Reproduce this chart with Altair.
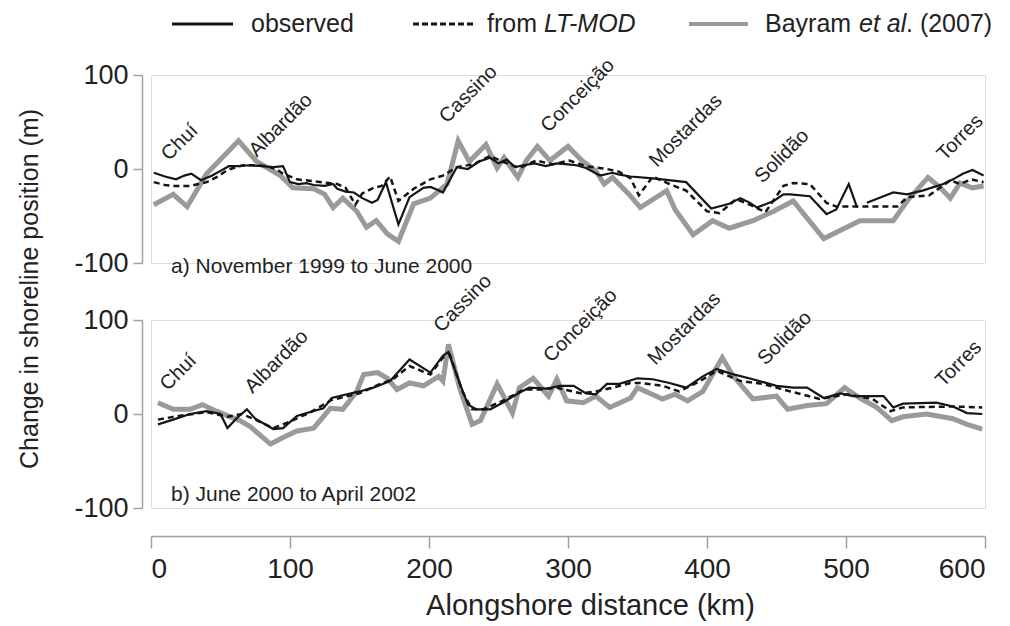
import altair as alt
import pandas as pd

FONT = "Liberation Sans"
BLACK = "#151515"
GRAY = "#9a9a9a"
AXC = "#a59c9c"
TXT = "#222222"

# ---------------- panel a) November 1999 to June 2000 ----------------
obs_a_km = [2, 10, 18, 24, 29, 36, 44, 50, 56, 63, 71, 80, 88, 95, 100, 106, 112, 117, 125, 131,
            134, 140, 146, 152, 159, 163, 169, 178, 186, 196, 201, 206, 210, 220, 228, 236, 244, 250, 256, 262,
            268, 276, 284, 292, 300, 306, 313, 323, 332, 337, 345, 361, 385, 403, 416, 424, 431, 436, 448, 455,
            460, 474, 486, 493, 502, 508, 515, 527, 534, 544, 555, 570, 577, 584, 591, 599]
obs_a_val = [-4, -8, -11, -7, -5, -12, -7, -2, 3, 3, 4, 3, 2, 3, -14, -16, -15, -17, -18, -16,
             -21, -24, -25, -31, -36, -33, -14, -59, -30, -20, -19, -22, -25, 2, 0, 8, 12, 6, 10, 2,
             4, 6, 3, 6, 5, 4, 1, -7, -4, -6, -8, -10, -14, -42, -37, -31, -36, -41, -34, -27,
             -27, -29, -48, -43, -16, -41, -36, -29, -25, -27, -23, -16, -11, -5, -1, -7]
obs_a_gap_after = 508

mod_a_km = [2, 10, 16, 28, 40, 48, 55, 66, 75, 83, 90, 95, 105, 117, 128, 134, 140, 147, 152, 160,
            166, 172, 178, 189, 201, 210, 220, 232, 244, 251, 265, 277, 289, 301, 313, 328, 337, 345, 351, 361,
            373, 385, 400, 409, 421, 431, 442, 455, 462, 474, 486, 493, 537, 544, 560, 575, 582, 590, 599]
mod_a_val = [-14, -17, -18, -18, -14, -8, -1, 4, 4, 3, 0, -5, -11, -13, -15, -16, -20, -38, -26, -20,
             -18, -8, -34, -21, -11, -7, 2, 5, 14, 9, 1, 9, 5, 9, 3, 0, -3, -10, -28, -8,
             -16, -23, -45, -47, -32, -38, -46, -18, -15, -16, -36, -40, -40, -30, -28, -12, -16, -11, -14]

bay_a_km = [2, 16, 26, 40, 63, 76, 93, 102, 117, 125, 131, 138, 148, 155, 162, 170, 178, 189, 201, 213,
            221, 229, 241, 249, 254, 264, 270, 278, 287, 300, 310, 320, 326, 332, 344, 352, 371, 377, 390, 404,
            416, 433, 448, 462, 484, 510, 534, 544, 559, 568, 575, 582, 591, 599]
bay_a_val = [-38, -27, -40, -5, 30, 8, -7, -20, -21, -27, -41, -31, -45, -62, -55, -69, -77, -37, -31, -16,
             30, 8, 26, 1, 12, -9, 9, 24, 9, 24, 9, -2, -16, -9, -27, -41, -23, -43, -70, -55,
             -63, -55, -45, -34, -74, -55, -55, -34, -9, -20, -31, -15, -20, -18]

places_a_name = ["Chuí", "Albardão", "Cassino", "Conceição", "Mostardas", "Solidão", "Torres"]
places_a_km = [13, 76, 213, 286, 364, 440, 571]
places_a_val = [8, 12, 48, 38, 1, -16, 8]

# ---------------- panel b) June 2000 to April 2002 ----------------
obs_b_km = [5, 16, 28, 40, 50, 55, 62, 69, 75, 88, 95, 105, 112, 124, 130, 141, 150, 160, 172, 186,
            201, 210, 214, 222, 228, 234, 244, 253, 263, 272, 285, 294, 304, 313, 320, 328, 337, 350, 361, 373,
            385, 397, 407, 417, 433, 450, 462, 472, 484, 496, 505, 527, 534, 541, 565, 577, 587, 598]
obs_b_val = [-11, -6, 0, 3, 0, -15, -4, 5, -5, -16, -15, -2, 1, 6, 17, 21, 24, 28, 35, 58,
             44, 62, 66, 33, 10, 5, 5, 12, 21, 28, 27, 30, 30, 22, 21, 32, 32, 38, 37, 33,
             28, 40, 48, 43, 37, 30, 28, 28, 17, 22, 19, 19, 7, 11, 12, 8, 1, 0]

mod_b_km = [5, 20, 40, 55, 65, 75, 88, 100, 115, 130, 150, 165, 174, 186, 201, 210, 215, 224, 231, 239,
            253, 268, 280, 292, 309, 320, 332, 345, 352, 368, 380, 395, 407, 424, 440, 460, 481, 501, 519, 532,
            541, 577, 598]
mod_b_val = [-6, -2, 2, -3, 0, -6, -15, -8, 2, 15, 22, 32, 37, 51, 42, 60, 63, 24, 5, 5,
             14, 26, 26, 28, 22, 24, 28, 33, 33, 30, 24, 35, 46, 35, 32, 24, 16, 21, 16, 3,
             7, 8, 7]

bay_b_km = [5, 16, 28, 37, 47, 64, 71, 86, 95, 105, 117, 129, 138, 148, 153, 163, 170, 177, 186, 196,
            207, 210, 214, 222, 231, 237, 249, 260, 265, 275, 286, 292, 299, 311, 320, 330, 345, 350, 368, 377,
            386, 397, 411, 419, 433, 450, 458, 472, 486, 499, 510, 522, 533, 541, 558, 577, 587, 598]
bay_b_val = [12, 5, 5, 10, 3, -7, -13, -32, -25, -18, -15, 6, 5, 24, 42, 44, 38, 26, 33, 30,
             40, 35, 74, 28, -11, -7, 32, 1, 28, 38, 19, 37, 14, 12, 19, 7, 17, 28, 16, 21,
             14, 24, 60, 40, 16, 19, 5, 9, 11, 28, 17, 7, -7, -3, 0, -5, -11, -16]

places_b_name = ["Chuí", "Albardão", "Cassino", "Conceição", "Mostardas", "Solidão", "Torres"]
places_b_km = [12, 73, 209, 288, 363, 442, 570]
places_b_val = [24, 21, 86, 54, 51, 51, 28]

x_ticks = [0, 100, 200, 300, 400, 500, 600]
y_ticks = [-100, 0, 100]

PW, PH = 834, 188

yaxis = alt.Axis(values=y_ticks, tickSize=9, offset=9, domainColor=AXC, tickColor=AXC,
                 domainWidth=1.5, tickWidth=1.5, labelFontSize=27, labelColor=TXT,
                 labelFont=FONT, labelPadding=5, grid=False, title=None,
                 labelExpr="'' + datum.value")
xaxis_b = alt.Axis(values=x_ticks, tickSize=12, offset=28, domainColor=AXC, tickColor=AXC,
                   domainWidth=1.5, tickWidth=1.5, labelFontSize=28, labelColor=TXT,
                   labelFont=FONT, labelPadding=7, grid=False,
                   title="Alongshore distance (km)", titleFontSize=29, titleFont=FONT,
                   titleFontWeight="normal", titleColor=TXT, titlePadding=8, titleX=439)


def line_df(km, val, gap_after=None):
    seg = [0 if (gap_after is None or k <= gap_after) else 1 for k in km]
    return pd.DataFrame({"km": km, "val": val, "seg": seg})


def panel(obs_km, obs_val, gap, mod_km, mod_val, bay_km, bay_val,
          pn, pk, pv, tag, tag_y, show_x, extra):
    X = alt.X("km:Q", scale=alt.Scale(domain=[0, 600], nice=False, zero=False),
              axis=xaxis_b if show_x else None)
    Y = alt.Y("val:Q", scale=alt.Scale(domain=[-100, 100], nice=False), axis=yaxis)
    gray = alt.Chart(line_df(bay_km, bay_val)).mark_line(
        color=GRAY, strokeWidth=5, strokeJoin="miter").encode(x=X, y=Y)
    obs = alt.Chart(line_df(obs_km, obs_val, gap)).mark_line(
        color=BLACK, strokeWidth=2.2).encode(x=X, y=Y, detail="seg:N")
    mod = alt.Chart(line_df(mod_km, mod_val)).mark_line(
        color=BLACK, strokeWidth=2.5, strokeDash=[6, 4]).encode(x=X, y=Y)
    names = alt.Chart(pd.DataFrame({"name": pn, "km": pk, "val": pv})).mark_text(
        angle=315, align="left", baseline="alphabetic", fontSize=20, font=FONT, color=TXT
    ).encode(x=X, y=Y, text="name:N")
    lab = alt.Chart(pd.DataFrame({"a": [0]})).mark_text(
        text=tag, align="left", baseline="middle", fontSize=21, font=FONT, color=TXT
    ).encode(x=alt.value(20), y=alt.value(tag_y))
    return alt.layer(gray, obs, mod, names, lab, *extra).properties(width=PW, height=PH)


one = pd.DataFrame({"a": [0]})
LY = -51
LF = 25
legend_layers = [
    alt.Chart(one).mark_rule(color=BLACK, strokeWidth=3).encode(
        x=alt.value(21), x2=alt.value(82), y=alt.value(LY)),
    alt.Chart(one).mark_text(text="observed", align="left", baseline="middle",
                             fontSize=LF, font=FONT, color=TXT).encode(
        x=alt.value(100), y=alt.value(LY)),
    alt.Chart(one).mark_rule(color=BLACK, strokeWidth=3, strokeDash=[6, 3]).encode(
        x=alt.value(262), x2=alt.value(323), y=alt.value(LY)),
    alt.Chart(one).mark_text(text="from", align="left", baseline="middle",
                             fontSize=LF, font=FONT, color=TXT).encode(
        x=alt.value(336), y=alt.value(LY)),
    alt.Chart(one).mark_text(text="LT-MOD", align="left", baseline="middle", fontStyle="italic",
                             fontSize=LF, font=FONT, color=TXT).encode(
        x=alt.value(393), y=alt.value(LY)),
    alt.Chart(one).mark_rule(color=GRAY, strokeWidth=4).encode(
        x=alt.value(538), x2=alt.value(597), y=alt.value(LY)),
    alt.Chart(one).mark_text(text="Bayram", align="left", baseline="middle",
                             fontSize=LF, font=FONT, color=TXT).encode(
        x=alt.value(614), y=alt.value(LY)),
    alt.Chart(one).mark_text(text="et al", align="left", baseline="middle", fontStyle="italic",
                             fontSize=LF, font=FONT, color=TXT).encode(
        x=alt.value(708), y=alt.value(LY)),
    alt.Chart(one).mark_text(text=". (2007)", align="left", baseline="middle",
                             fontSize=LF, font=FONT, color=TXT).encode(
        x=alt.value(755), y=alt.value(LY)),
    alt.Chart(one).mark_text(text="Change in shoreline position (m)", angle=270,
                             align="center", baseline="middle",
                             fontSize=25, font=FONT, color=TXT).encode(
        x=alt.value(-121), y=alt.value(214)),
]

pa = panel(obs_a_km, obs_a_val, obs_a_gap_after, mod_a_km, mod_a_val, bay_a_km, bay_a_val,
           places_a_name, places_a_km, places_a_val,
           "a) November 1999 to June 2000", 192, False, legend_layers)
pb = panel(obs_b_km, obs_b_val, None, mod_b_km, mod_b_val, bay_b_km, bay_b_val,
           places_b_name, places_b_km, places_b_val,
           "b) June 2000 to April 2002", 175, True, [])

chart = alt.vconcat(pa, pb, spacing=57, bounds="flush").properties(
    padding={"left": 9, "top": 3, "right": 0, "bottom": 0}
).configure_view(stroke=None).configure(font=FONT)

chart.save("out.html", embed_options={"renderer": "svg", "actions": False})
